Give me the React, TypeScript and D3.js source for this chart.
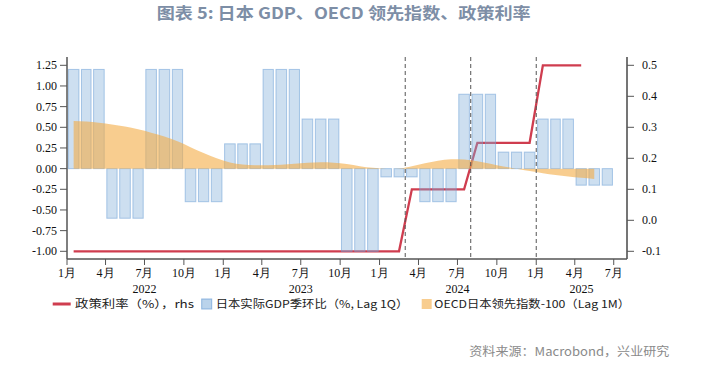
import React from 'react';
import * as d3 from 'd3';

// Data (monthly from Jan 2022)
const gdpQuarterly = [1.2, -0.6, 1.2, -0.4, 0.3, 1.2, 0.6, -1.0, -0.1, -0.4, 0.9, 0.2, 0.6, -0.2];
const oecdMonthly = [
  0.575, 0.57, 0.555, 0.535, 0.51, 0.475, 0.435, 0.39, 0.33, 0.26, 0.19, 0.125,
  0.075, 0.05, 0.042, 0.042, 0.046, 0.058, 0.07, 0.077, 0.072, 0.055, 0.03, 0.01,
  0.0, 0.003, 0.03, 0.065, 0.095, 0.115, 0.11, 0.09, 0.06, 0.025, 0.0, -0.03,
  -0.055, -0.078, -0.095, -0.11, -0.125,
];
const policyRate = [
  -0.1, -0.1, -0.1, -0.1, -0.1, -0.1, -0.1, -0.1, -0.1, -0.1, -0.1, -0.1,
  -0.1, -0.1, -0.1, -0.1, -0.1, -0.1, -0.1, -0.1, -0.1, -0.1, -0.1, -0.1,
  -0.1, -0.1, 0.1, 0.1, 0.1, 0.1, 0.1, 0.25, 0.25, 0.25, 0.25, 0.25,
  0.5, 0.5, 0.5, 0.5,
];
const leftTicks = [1.25, 1.0, 0.75, 0.5, 0.25, 0.0, -0.25, -0.5, -0.75, -1.0];
const rightTicks = [0.5, 0.4, 0.3, 0.2, 0.1, 0.0, -0.1];
const yearLabels = ['2022', '2023', '2024', '2025'];
const markerDates = [new Date(2024, 2, 1), new Date(2024, 7, 1), new Date(2025, 0, 1)];
const legendLabels = ['政策利率（%），rhs', '日本实际GDP季环比（%, Lag 1Q）', 'OECD日本领先指数-100（Lag 1M）'];
const titleText = '图表 5:  日本 GDP、OECD 领先指数、政策利率';
const sourceText = '资料来源：Macrobond，兴业研究';

const W = 701, H = 368;
const X0 = 67, X1 = 627, YT = 57, YB = 259;

export default function App() {
  const x = d3.scaleTime().domain([new Date(2022, 0, 1), new Date(2025, 7, 1)]).range([X0, X1]);
  const yL = d3.scaleLinear().domain([-1, 1.25]).range([251.3, 65.3]);
  const yR = d3.scaleLinear().domain([-0.1, 0.5]).range([251.3, 65.3]);

  const monthStart = (i: number) => new Date(2022, i, 1);
  const monthMid = (i: number) => (x(monthStart(i)) + x(monthStart(i + 1))) / 2;

  const gdpMonthly: number[] = [];
  gdpQuarterly.forEach((v) => { gdpMonthly.push(v, v, v); });

  const area = d3.area<number>()
    .x((_, i) => monthMid(i))
    .y0(() => yL(0))
    .y1((d) => yL(d))
    .curve(d3.curveMonotoneX);

  const line = d3.line<number>()
    .x((_, i) => monthMid(i))
    .y((d) => yR(d));

  const monthTicks = d3.range(0, 43, 3).map((i) => monthStart(i));
  const yearPos = [
    x(new Date(2022, 6, 1)),
    x(new Date(2023, 6, 1)),
    x(new Date(2024, 6, 1)),
    (x(new Date(2025, 0, 1)) + X1) / 2,
  ];

  const serif = '"Liberation Serif", "Times New Roman", serif';
  const cjk = '"Noto Sans CJK SC", "Noto Sans", sans-serif';

  return (
    <svg width={W} height={H} style={{ position: 'absolute', left: 0, top: 0, background: '#fff' }}>
      <text x={343.7} y={18.5} textAnchor="middle" fontFamily={cjk} fontWeight="bold" fontSize={16}
        fill="#7d8ea6" textLength={374} lengthAdjust="spacingAndGlyphs">{titleText}</text>

      {/* policy rate line (under bars) */}
      <path d={line(policyRate) || ''} fill="none" stroke="#cf3d4f" strokeWidth={2.3} strokeLinejoin="miter" />

      {/* GDP bars */}
      {gdpMonthly.map((v, i) => {
        const a = x(monthStart(i)), b = x(monthStart(i + 1));
        const w = b - a;
        const y0 = yL(Math.max(0, v)), y1 = yL(Math.min(0, v));
        return (
          <rect key={i} x={a + w * 0.1} y={y0} width={w * 0.8} height={y1 - y0}
            fill="rgba(130,175,218,0.4)" stroke="rgba(110,160,215,0.55)" strokeWidth={1} />
        );
      })}

      {/* OECD area */}
      <path d={area(oecdMonthly) || ''} fill="#f3ac45" fillOpacity={0.6} />

      {/* dashed markers */}
      {markerDates.map((d, i) => (
        <line key={i} x1={x(d)} x2={x(d)} y1={YT} y2={YB} stroke="#555" strokeWidth={1} strokeDasharray="4,3" />
      ))}

      {/* left axis */}
      <line x1={X0} x2={X0} y1={YT} y2={YB} stroke="#555" strokeWidth={1.5} />
      {leftTicks.map((t) => (
        <g key={t}>
          <line x1={X0 - 7} x2={X0} y1={yL(t)} y2={yL(t)} stroke="#555" strokeWidth={1} />
          <text x={X0 - 10} y={yL(t)} dy="0.33em" textAnchor="end" fontFamily={serif} fontSize={12} fill="#111">
            {t.toFixed(2)}
          </text>
        </g>
      ))}

      {/* right axis */}
      <line x1={X1} x2={X1} y1={YT} y2={YB} stroke="#666" strokeWidth={1.8} />
      {rightTicks.map((t) => (
        <g key={t}>
          <line x1={X1} x2={X1 + 7} y1={yR(t)} y2={yR(t)} stroke="#555" strokeWidth={1} />
          <text x={X1 + 15} y={yR(t)} dy="0.33em" textAnchor="start" fontFamily={serif} fontSize={12} fill="#111">
            {t.toFixed(1)}
          </text>
        </g>
      ))}

      {/* bottom axis */}
      <line x1={X0} x2={X1} y1={YB} y2={YB} stroke="#555" strokeWidth={1.5} />
      {monthTicks.map((d, i) => (
        <g key={i}>
          <line x1={x(d)} x2={x(d)} y1={YB} y2={YB + 6} stroke="#555" strokeWidth={1} />
          <text x={x(d)} y={277} textAnchor="middle" fontFamily={serif} fontSize={12} fill="#111">
            {`${d.getMonth() + 1}月`}
          </text>
        </g>
      ))}
      {yearLabels.map((t, i) => (
        <text key={t} x={yearPos[i]} y={293} textAnchor="middle" fontFamily={serif} fontSize={12} fill="#111">{t}</text>
      ))}

      {/* legend */}
      <line x1={52.7} x2={70.7} y1={304} y2={304} stroke="#cf3d4f" strokeWidth={3} />
      <text x={75} y={308} fontFamily={cjk} fontSize={11} fill="#222" textLength={119} lengthAdjust="spacingAndGlyphs">{legendLabels[0]}</text>
      <rect x={201.7} y={299} width={10} height={10} fill="rgba(130,175,218,0.55)" stroke="rgba(110,160,215,0.7)" strokeWidth={1} />
      <text x={215.7} y={308} fontFamily={cjk} fontSize={11} fill="#222" textLength={192.6} lengthAdjust="spacingAndGlyphs">{legendLabels[1]}</text>
      <rect x={421.7} y={299} width={10} height={10} fill="#f3ac45" fillOpacity={0.6} />
      <text x={434.3} y={308} fontFamily={cjk} fontSize={11} fill="#222" textLength={195.7} lengthAdjust="spacingAndGlyphs">{legendLabels[2]}</text>

      {/* source */}
      <text x={669.3} y={356} textAnchor="end" fontFamily={cjk} fontSize={12} fill="#8a8a8a"
        textLength={200} lengthAdjust="spacingAndGlyphs">{sourceText}</text>
    </svg>
  );
}
